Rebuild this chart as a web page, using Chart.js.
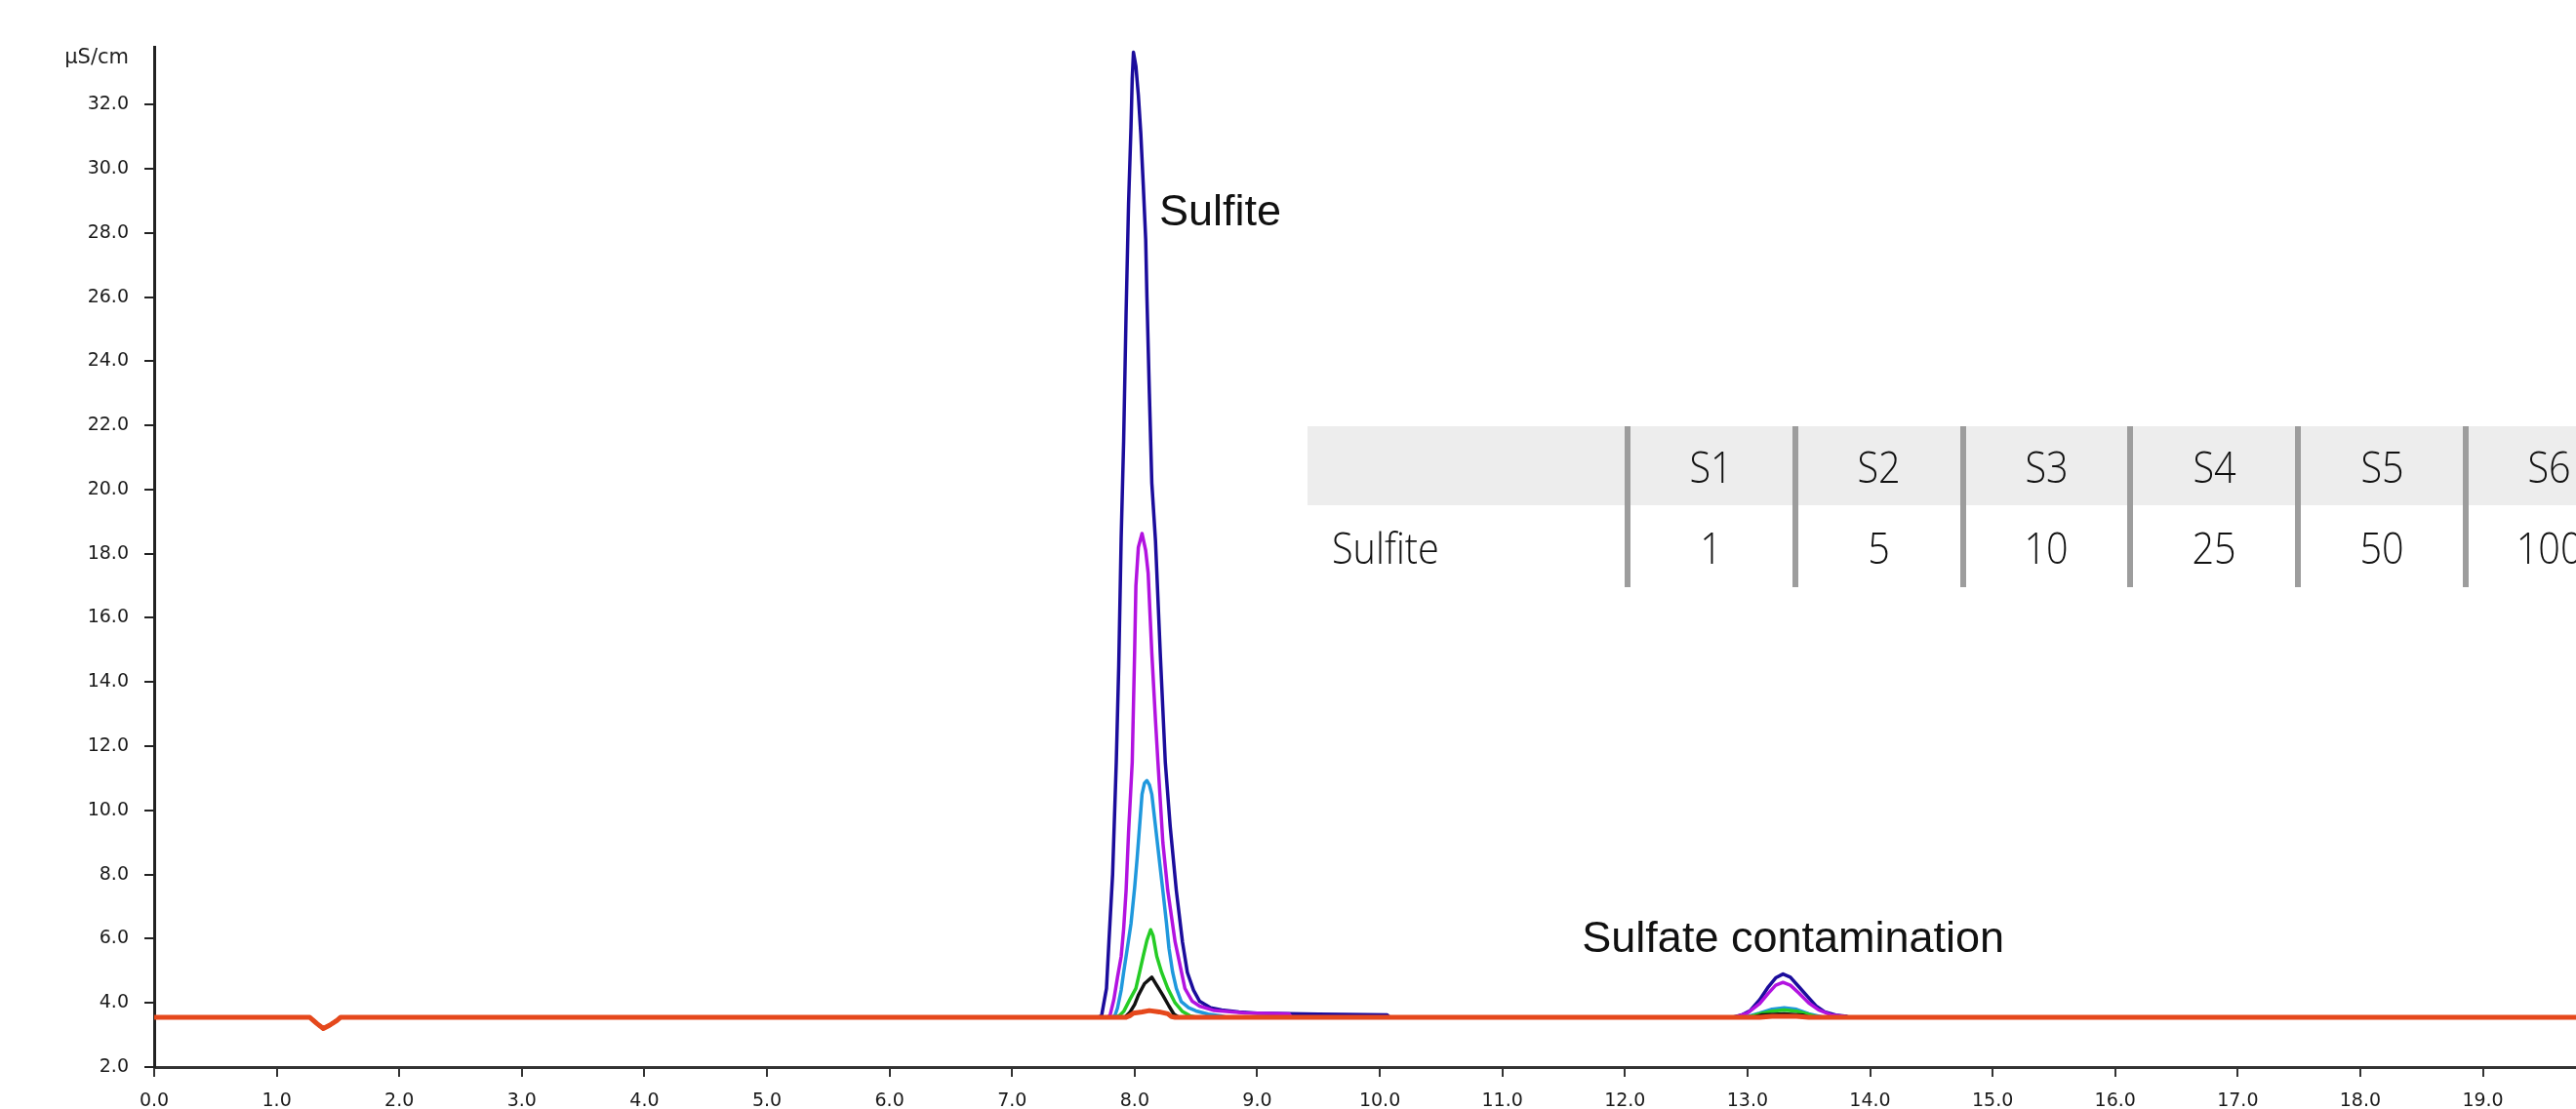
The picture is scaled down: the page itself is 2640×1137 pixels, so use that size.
<!DOCTYPE html>
<html>
<head>
<meta charset="utf-8">
<title>Sulfite standards</title>
<script src="https://cdn.jsdelivr.net/npm/chart.js@4.4.1/dist/chart.umd.min.js"></script>
<style>
  body { margin: 0; background: #fff; overflow: hidden; }
  #wrap { position: relative; width: 2640px; height: 1140px; }
  #tbl { position: absolute; left: 1340px; top: 437px; width: 1300px; height: 165px;
         font-family: "Open Sans", "Noto Sans", sans-serif; font-weight: 300; color: #111; }
  .head { position: absolute; left: 0; top: 0; width: 1300px; height: 81px; background: #ededed; }
  .cell { position: absolute; font-size: 44px; line-height: 44px; white-space: nowrap; }
  .cell span { display: inline-block; transform: scaleX(0.9); }
  .sep { position: absolute; top: 0; width: 6px; height: 165px; background: #9d9d9d; }
</style>
</head>
<body>
<div id="wrap">
  <canvas id="chart"></canvas>
  <div id="tbl"></div>
</div>
<script>
// retention time (min) / conductivity (µS/cm)
const dipTime  = [0, 1.27, 1.33, 1.38, 1.43, 1.49, 1.52];
const dipValue = [3.55, 3.55, 3.35, 3.2, 3.3, 3.45, 3.55];
const endTime = 20.5;
const baseValue = 3.55;

// S6 - 100 mg/L
const s6Time = [7.70, 7.73, 7.77, 7.79, 7.82, 7.85, 7.87, 7.89, 7.91, 7.93, 7.95, 7.97, 7.98, 7.99,
  8.01, 8.03, 8.05, 8.07, 8.09, 8.10, 8.12, 8.14, 8.17, 8.21, 8.25, 8.29, 8.34, 8.39, 8.43, 8.48,
  8.53, 8.62, 8.71, 8.85, 9.00, 9.50, 10.06, 10.08,
  12.88, 12.95, 13.02, 13.10, 13.17, 13.23, 13.29, 13.35, 13.42, 13.49, 13.56, 13.63, 13.72, 13.81, 13.83];
const s6Value = [3.55, 3.6, 4.45, 5.9, 8.0, 11.5, 14.5, 18.5, 21.5, 25.5, 28.9, 31.3, 32.8, 33.63,
  33.2, 32.3, 31.1, 29.5, 27.8, 26.0, 23.0, 20.2, 18.4, 14.8, 11.5, 9.5, 7.5, 5.9, 4.95, 4.4,
  4.05, 3.85, 3.78, 3.72, 3.68, 3.65, 3.63, 3.55,
  3.55, 3.62, 3.75, 4.1, 4.5, 4.78, 4.9, 4.8, 4.5, 4.2, 3.9, 3.72, 3.62, 3.58, 3.55];

// S5 - 50 mg/L
const s5Time = [7.78, 7.80, 7.83, 7.86, 7.89, 7.91, 7.93, 7.95, 7.98, 8.00, 8.01, 8.03, 8.06, 8.09,
  8.11, 8.14, 8.17, 8.19, 8.23, 8.27, 8.33, 8.41, 8.47, 8.53, 8.65, 8.90, 9.26, 9.28,
  12.90, 13.00, 13.10, 13.17, 13.23, 13.29, 13.35, 13.42, 13.50, 13.58, 13.68, 13.80, 13.83];
const s5Value = [3.55, 3.62, 4.1, 4.8, 5.45, 6.3, 7.5, 9.3, 11.5, 15.0, 17.0, 18.2, 18.63, 18.1,
  17.4, 14.9, 12.8, 11.5, 9.0, 7.5, 5.9, 4.45, 4.05, 3.9, 3.76, 3.69, 3.66, 3.55,
  3.55, 3.68, 3.98, 4.3, 4.55, 4.64, 4.55, 4.3, 4.0, 3.78, 3.63, 3.57, 3.55];

// S4 - 25 mg/L
const s4Time = [7.82, 7.84, 7.86, 7.89, 7.91, 7.94, 7.97, 8.00, 8.02, 8.04, 8.06, 8.08, 8.10, 8.12,
  8.14, 8.17, 8.20, 8.23, 8.26, 8.28, 8.31, 8.34, 8.38, 8.44, 8.50, 8.60, 8.70, 8.75,
  12.98, 13.10, 13.20, 13.30, 13.40, 13.50, 13.62];
const s4Value = [3.55, 3.62, 3.84, 4.4, 4.95, 5.7, 6.47, 7.6, 8.5, 9.5, 10.5, 10.85, 10.93, 10.8,
  10.5, 9.5, 8.5, 7.5, 6.47, 5.7, 4.95, 4.45, 4.04, 3.85, 3.75, 3.65, 3.6, 3.55,
  3.55, 3.68, 3.8, 3.85, 3.8, 3.66, 3.55];

// S3 - 10 mg/L
const s3Time = [7.85, 7.88, 7.91, 7.96, 8.01, 8.04, 8.07, 8.10, 8.13, 8.15, 8.18, 8.22, 8.27, 8.33,
  8.39, 8.45, 8.50,
  13.00, 13.10, 13.20, 13.30, 13.40, 13.50, 13.58];
const s3Value = [3.55, 3.62, 3.73, 4.1, 4.45, 4.95, 5.46, 5.95, 6.28, 6.1, 5.46, 4.95, 4.45, 4.0,
  3.73, 3.6, 3.55,
  3.55, 3.66, 3.74, 3.78, 3.74, 3.64, 3.55];

// S2 - 5 mg/L
const s2Time = [7.92, 7.96, 8.00, 8.03, 8.08, 8.14, 8.18, 8.23, 8.28, 8.32, 8.36,
  13.05, 13.12, 13.30, 13.45, 13.50];
const s2Value = [3.55, 3.7, 3.95, 4.24, 4.6, 4.8, 4.55, 4.24, 3.9, 3.65, 3.55,
  3.55, 3.63, 3.66, 3.62, 3.55];

// S1 - 1 mg/L
const s1Time = [7.93, 7.96, 7.99, 8.06, 8.12, 8.20, 8.27, 8.30, 8.33,
  13.10, 13.20, 13.40, 13.50];
const s1Value = [3.55, 3.6, 3.68, 3.72, 3.76, 3.72, 3.66, 3.57, 3.55,
  3.55, 3.58, 3.58, 3.55];

const sampleNames = ['S1', 'S2', 'S3', 'S4', 'S5', 'S6'];
const sulfiteConc = [1, 5, 10, 25, 50, 100];
const yTicks = [2, 4, 6, 8, 10, 12, 14, 16, 18, 20, 22, 24, 26, 28, 30, 32];
const unitLabel = 'µS/cm';

function trace(times, values) {
  let t = dipTime.concat(times, [endTime]);
  let v = dipValue.concat(values, [baseValue]);
  return t.map((x, i) => ({ x: x, y: v[i] }));
}

// S1 first so it is drawn on top
const series = [
  { data: trace(s1Time, s1Value), color: '#e5481c', width: 5 },
  { data: trace(s2Time, s2Value), color: '#111111', width: 3.5 },
  { data: trace(s3Time, s3Value), color: '#25cc25', width: 3.5 },
  { data: trace(s4Time, s4Value), color: '#1f98dd', width: 3.5 },
  { data: trace(s5Time, s5Value), color: '#b212e0', width: 3.5 },
  { data: trace(s6Time, s6Value), color: '#1b0c9c', width: 3.5 },
];

const textPlugin = {
  id: 'peakText',
  afterDraw(chart) {
    const c = chart.ctx, sx = chart.scales.x, sy = chart.scales.y;
    c.save();
    c.fillStyle = '#111';
    c.textAlign = 'left';
    c.textBaseline = 'alphabetic';
    c.font = '45px "Liberation Sans", Arial, sans-serif';
    c.fillText('Sulfite', sx.getPixelForValue(8.2), sy.getPixelForValue(28.25));
    c.fillText('Sulfate contamination', sx.getPixelForValue(11.65), sy.getPixelForValue(5.6));
    c.font = '21px "DejaVu Sans", sans-serif';
    c.fillStyle = '#222';
    c.textAlign = 'right';
    c.textBaseline = 'middle';
    c.fillText(unitLabel, 132, 60);
    c.restore();
  }
};

new Chart(document.getElementById('chart'), {
  type: 'line',
  data: {
    datasets: series.map((s, i) => ({
      label: sampleNames[i],
      data: s.data,
      borderColor: s.color,
      borderWidth: s.width,
      fill: false,
    }))
  },
  options: {
    responsive: true,
    maintainAspectRatio: false,
    animation: false,
    layout: { padding: { top: 48, left: 0, right: 0, bottom: 0 } },
    plugins: { legend: { display: false }, tooltip: { enabled: false } },
    elements: { point: { radius: 0 }, line: { tension: 0, borderJoinStyle: 'round' } },
    scales: {
      x: {
        type: 'linear', min: 0, max: 19.76,
        afterFit: s => { s.height = 46; },
        ticks: {
          stepSize: 1, includeBounds: false, autoSkip: false, maxRotation: 0, padding: 14,
          color: '#1a1a1a', font: { family: 'DejaVu Sans', size: 19 },
          callback: v => v.toFixed(1)
        },
        grid: { drawOnChartArea: false, tickLength: 10, color: '#333', lineWidth: 2 },
        border: { color: '#333', width: 3 }
      },
      y: {
        min: 2, max: 33.8,
        afterFit: s => { s.width = 158; },
        afterBuildTicks: s => { s.ticks = yTicks.map(v => ({ value: v })); },
        ticks: {
          padding: 16, color: '#1a1a1a', font: { family: 'DejaVu Sans', size: 19 },
          callback: v => v.toFixed(1)
        },
        grid: { drawOnChartArea: false, tickLength: 10, color: '#222', lineWidth: 2 },
        border: { color: '#222', width: 3 }
      }
    }
  },
  plugins: [textPlugin]
});

// concentration table (mg/L)
const tbl = document.getElementById('tbl');
const colW = 171.8, firstSep = 328;
let html = '<div class="head"></div>';
html += '<div class="cell" style="left:25px;top:102px"><span style="transform-origin:left">Sulfite</span></div>';
sampleNames.forEach((name, i) => {
  const left = firstSep + i * colW;
  html += '<div class="sep" style="left:' + (left - 3) + 'px"></div>';
  html += '<div class="cell" style="left:' + (left + 3) + 'px;width:' + (colW - 6) + 'px;text-align:center;top:19px"><span>' + name + '</span></div>';
  html += '<div class="cell" style="left:' + (left + 3) + 'px;width:' + (colW - 6) + 'px;text-align:center;top:102px"><span>' + sulfiteConc[i] + '</span></div>';
});
tbl.innerHTML = html;
</script>
</body>
</html>
